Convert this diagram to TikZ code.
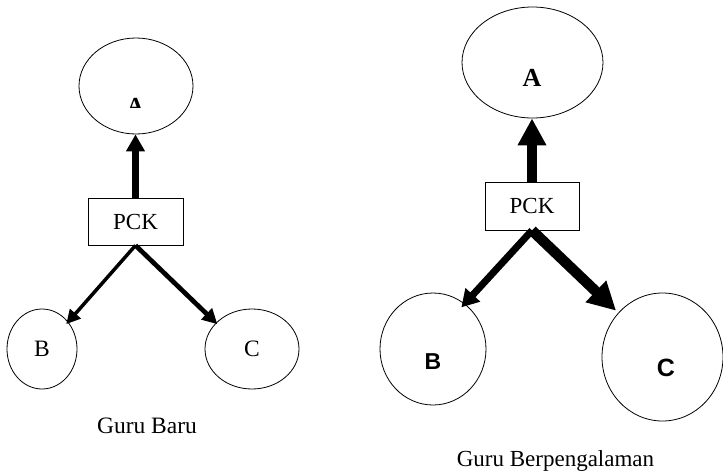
\documentclass[tikz,border=0pt]{standalone}
\usepackage{fontspec}
\setmainfont{Liberation Serif}
\newfontfamily\sanslabel{Liberation Sans}
\usetikzlibrary{arrows.meta,positioning,shapes.geometric}

\begin{document}
\begin{tikzpicture}[x=1pt,y=-1pt,
	ring/.style={draw, ellipse, line width=0.8pt, inner sep=0pt, font=\fontsize{23.5}{28}\selectfont},
	box/.style={draw, rectangle, line width=0.8pt, inner sep=0pt, minimum width=95pt, minimum height=47pt, font=\fontsize{23}{28}\selectfont},
	txt/.style={inner sep=0pt, anchor=base, font=\fontsize{23.5}{28}\selectfont}]
	\useasboundingbox (0,0) rectangle (723,472);

	% Guru Baru
	\node[ring, minimum width=114pt, minimum height=96pt] (a1) at (136,86) {};
	\node[box] (p1) at (135.5,221.5) {PCK};
	\node[ring, minimum width=70pt, minimum height=80pt] (b1) at (42,349) {B};
	\node[ring, minimum width=94pt, minimum height=80pt] (c1) at (252,349) {C};
	\begin{scope}
		\clip (100,90) rectangle (170,107.5);
		\node[txt, font=\fontsize{23}{27}\selectfont\bfseries] (a1txt) at (135.5,113) {A};
	\end{scope}
	\node[txt] (cap1) at (147,433) {Guru Baru};

	\path (p1.north) edge[line width=7pt, -{Triangle[length=17pt,width=18pt]}] (p1.north |- a1.south)
	(p1.south) edge[line width=3.5pt, shorten >=-3pt, -{Triangle[length=14pt,width=14pt]}] (b1.46)
	(p1.south) edge[line width=4.7pt, shorten >=-2pt, -{Triangle[length=15pt,width=15pt]}] (c1.144);

	% Guru Berpengalaman
	\node[ring, minimum width=141pt, minimum height=111pt] (a2) at (532.5,62.5) {};
	\node[box, minimum width=94pt, minimum height=48pt] (p2) at (532,206) {PCK};
	\node[ring, minimum width=106pt, minimum height=112pt] (b2) at (433,349) {};
	\node[ring, minimum width=121pt, minimum height=128pt] (c2) at (662.5,357) {};
	\node[txt, font=\fontsize{26}{31}\selectfont\bfseries] (a2txt) at (532,86) {A};
	\node[txt, font=\sanslabel\bfseries\fontsize{23}{28}\selectfont] (b2txt) at (433,369) {B};
	\node[txt, font=\sanslabel\bfseries\fontsize{25}{30}\selectfont] (c2txt) at (666,376.5) {C};
	\node[txt, font=\fontsize{23}{28}\selectfont] (cap2) at (555.5,466) {Guru Berpengalaman};

	\path (p2.north) edge[line width=10pt, -{Triangle[length=27pt,width=27pt]}] (p2.north |- a2.south)
	(p2.south) edge[line width=7pt, shorten >=-5pt, -{Triangle[length=17pt,width=19pt]}] (b2.55)
	(p2.south) edge[line width=10.5pt, shorten >=3pt, -{Triangle[length=28pt,width=28pt]}] (c2.135);
\end{tikzpicture}
\end{document}
